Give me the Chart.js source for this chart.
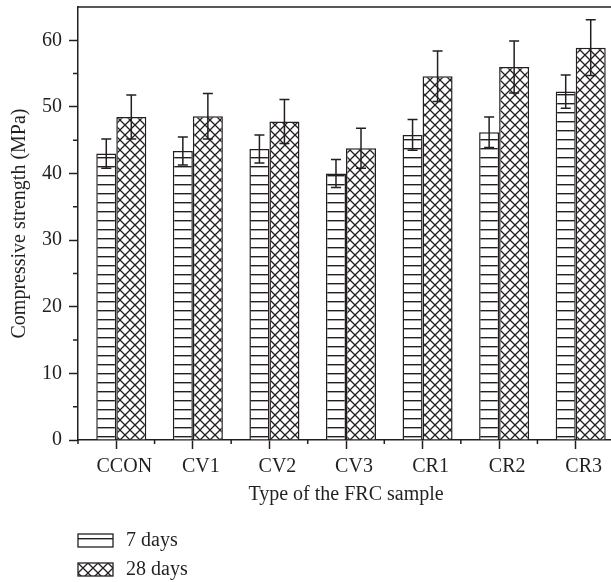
<!DOCTYPE html>
<html>
<head>
<meta charset="utf-8">
<script src="https://cdn.jsdelivr.net/npm/chart.js@4"></script>
<style>
  html, body { margin: 0; padding: 0; background: #fff; overflow: hidden; }
  #wrap { width: 611px; height: 582px; overflow: hidden; }
</style>
</head>
<body>
<div id="wrap"><canvas id="chart" width="620" height="582"></canvas></div>
<script>
// data
const categories = ["CCON", "CV1", "CV2", "CV3", "CR1", "CR2", "CR3"];
const strength7 = [43.0, 43.4, 43.7, 40.0, 45.8, 46.2, 52.3];
const error7 = [2.2, 2.1, 2.1, 2.1, 2.3, 2.3, 2.5];
const strength28 = [48.5, 48.6, 47.8, 43.8, 54.6, 56.0, 58.9];
const error28 = [3.3, 3.4, 3.3, 3.0, 3.8, 3.9, 4.2];
const yTicks = [0, 10, 20, 30, 40, 50, 60];
const yMinorTicks = [5, 15, 25, 35, 45, 55];
const seriesNames = ["7 days", "28 days"];

const ink = "#231f20";
const serif = "'Liberation Serif', 'DejaVu Serif', serif";

function linesPattern() {
  const c = document.createElement("canvas");
  c.width = 8; c.height = 9;
  const g = c.getContext("2d");
  g.fillStyle = "#fff";
  g.fillRect(0, 0, 8, 9);
  g.fillStyle = ink;
  g.fillRect(0, 4, 8, 1.4);
  return g.createPattern(c, "repeat");
}

function crossPattern() {
  const c = document.createElement("canvas");
  c.width = 10; c.height = 10;
  const g = c.getContext("2d");
  g.fillStyle = "#fff";
  g.fillRect(0, 0, 10, 10);
  g.strokeStyle = ink;
  g.lineWidth = 1.3;
  g.beginPath();
  g.moveTo(-1, -1); g.lineTo(11, 11);
  g.moveTo(11, -1); g.lineTo(-1, 11);
  g.stroke();
  return g.createPattern(c, "repeat");
}

const fill7 = linesPattern();
const fill28 = crossPattern();

const extras = {
  id: "extras",
  afterDatasetsDraw(chart) {
    const ctx = chart.ctx;
    const y = chart.scales.y;
    ctx.save();
    ctx.strokeStyle = ink;
    ctx.lineWidth = 1.5;
    chart.data.datasets.forEach((ds, di) => {
      const meta = chart.getDatasetMeta(di);
      meta.data.forEach((bar, i) => {
        const v = ds.data[i], e = ds.errors[i];
        const top = y.getPixelForValue(v + e);
        const bot = y.getPixelForValue(v - e);
        const cx = bar.x;
        ctx.beginPath();
        ctx.moveTo(cx, top); ctx.lineTo(cx, bot);
        ctx.moveTo(cx - 5, top); ctx.lineTo(cx + 5, top);
        ctx.moveTo(cx - 5, bot); ctx.lineTo(cx + 5, bot);
        ctx.stroke();
      });
    });
    ctx.restore();
  },
  afterDraw(chart) {
    const ctx = chart.ctx;
    const area = chart.chartArea;
    const x = chart.scales.x, y = chart.scales.y;
    ctx.save();
    ctx.strokeStyle = ink;
    ctx.lineWidth = 1.5;
    // top frame line
    ctx.beginPath();
    ctx.moveTo(area.left, area.top);
    ctx.lineTo(area.right, area.top);
    ctx.stroke();
    // minor ticks
    ctx.beginPath();
    yMinorTicks.forEach(v => {
      const py = y.getPixelForValue(v);
      ctx.moveTo(area.left - 5, py);
      ctx.lineTo(area.left, py);
    });
    const step = (x.getPixelForValue(1) - x.getPixelForValue(0));
    categories.forEach((c, i) => {
      const px = x.getPixelForValue(i) - step / 2;
      ctx.moveTo(px, area.bottom);
      ctx.lineTo(px, area.bottom + 4);
    });
    ctx.stroke();
    // legend
    const fills = [fill7, fill28];
    ctx.font = "20px " + serif;
    ctx.fillStyle = ink;
    ctx.textBaseline = "middle";
    seriesNames.forEach((name, i) => {
      const by = 534 + i * 29;
      ctx.save();
      ctx.translate(78, by);
      ctx.fillStyle = fills[i];
      ctx.fillRect(0, 0, 35, 13);
      ctx.lineWidth = 1.3;
      ctx.strokeRect(0, 0, 35, 13);
      ctx.restore();
      ctx.fillText(name, 126, by + 7);
    });
    ctx.restore();
  }
};

new Chart(document.getElementById("chart"), {
  type: "bar",
  data: {
    labels: categories,
    datasets: [
      {
        label: seriesNames[0],
        data: strength7,
        errors: error7,
        backgroundColor: fill7,
        borderColor: ink,
        borderWidth: 1.5,
        categoryPercentage: 0.523,
        barPercentage: 1.0,
      },
      {
        label: seriesNames[1],
        data: strength28,
        errors: error28,
        backgroundColor: fill28,
        borderColor: ink,
        borderWidth: 1.5,
        categoryPercentage: 0.784,
        barPercentage: 1.0,
      },
    ],
  },
  options: {
    responsive: false,
    animation: false,
    layout: { padding: { top: 7, right: 6, bottom: 70, left: 0 } },
    plugins: {
      legend: { display: false },
      tooltip: { enabled: false },
    },
    scales: {
      x: {
        afterFit: (s) => { s.height = 72; s.paddingLeft = 0; s.paddingRight = 0; },
        grid: { offset: false, drawOnChartArea: false, tickLength: 9, tickColor: ink, tickWidth: 1.5 },
        border: { color: ink, width: 1.5 },
        ticks: { color: ink, font: { family: serif, size: 20 }, padding: 6, labelOffset: 8, maxRotation: 0 },
        title: { display: true, text: "Type of the FRC sample", color: ink, font: { family: serif, size: 20 }, padding: { top: 0, bottom: 5 } },
      },
      y: {
        min: 0,
        max: 65,
        afterFit: (s) => { s.width = 78; s.paddingTop = 0; s.paddingBottom = 0; },
        afterBuildTicks: (s) => { s.ticks = yTicks.map(v => ({ value: v })); },
        grid: { drawOnChartArea: false, tickLength: 9, tickColor: ink, tickWidth: 1.5 },
        border: { color: ink, width: 1.5 },
        ticks: { color: ink, font: { family: serif, size: 20 }, padding: 7 },
        title: { display: true, text: "Compressive strength (MPa)", color: ink, font: { family: serif, size: 20 }, padding: { top: 8, bottom: 0 } },
      },
    },
  },
  plugins: [extras],
});
</script>
</body>
</html>
